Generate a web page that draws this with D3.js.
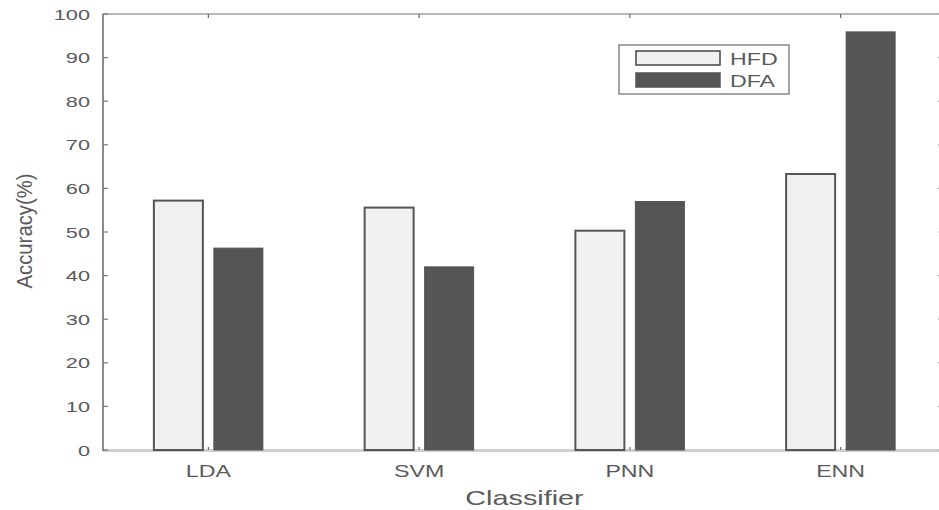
<!DOCTYPE html>
<html><head><meta charset="utf-8">
<script src="https://cdn.jsdelivr.net/npm/d3@7"></script>
<style>body{margin:0;background:#fff;}svg{display:block;font-family:Arial,"Liberation Sans",sans-serif;}</style>
</head><body><svg id="c" width="939" height="510"></svg>
<script>
const categories = ["LDA","SVM","PNN","ENN"];
const seriesNames = ["HFD","DFA"];
const hfd = [57.2, 55.6, 50.3, 63.3];
const dfa = [46.3, 42.0, 57.0, 95.9];
const yTicks = [0,10,20,30,40,50,60,70,80,90,100];
const xLabel = "Classifier";
const yLabel = "Accuracy(%)";

const W=939,H=510;
const m={left:103,right:946,top:14,bottom:450};
const SX=1.45;
const svg=d3.select("#c");
const x=d3.scaleBand().domain(categories).range([m.left,m.right]).padding(0);
const bw=x.bandwidth();
const x1=d3.scaleBand().domain(seriesNames).range([bw/2-54.5,bw/2+54.5]).paddingInner(0.1833).paddingOuter(0);
const y=d3.scaleLinear().domain([0,100]).range([m.bottom,m.top]);
const fills={HFD:"#f0f0f0",DFA:"#555555"};
const strokes={HFD:"#555555",DFA:"#555555"};
const textCol="#5a5a5a";

// axes lines
svg.append("line").attr("x1",m.left).attr("x2",W).attr("y1",m.top).attr("y2",m.top).attr("stroke","#b8b8b8").attr("stroke-width",2);
svg.append("line").attr("x1",m.left).attr("x2",W).attr("y1",m.bottom+0.5).attr("y2",m.bottom+0.5).attr("stroke","#cfcfcf").attr("stroke-width",3);
svg.append("line").attr("x1",m.left).attr("x2",m.left).attr("y1",m.top).attr("y2",m.bottom+1).attr("stroke","#666").attr("stroke-width",1.5);
svg.append("line").attr("x1",m.right).attr("x2",m.right).attr("y1",m.top).attr("y2",m.bottom).attr("stroke","#888").attr("stroke-width",1.5);

// y ticks (inside)
const yt=svg.append("g");
yTicks.forEach(t=>{
  yt.append("line").attr("x1",m.left).attr("x2",m.left+5).attr("y1",y(t)).attr("y2",y(t)).attr("stroke","#777").attr("stroke-width",1.2);
  yt.append("line").attr("x1",m.right-8).attr("x2",m.right).attr("y1",y(t)).attr("y2",y(t)).attr("stroke","#aaa").attr("stroke-width",1.2);
  yt.append("text").attr("transform",`translate(90,${y(t)+5.5}) scale(${SX},1)`)
    .attr("text-anchor","end").attr("font-size",15).attr("fill",textCol).text(t);
});
// x ticks
categories.forEach(c=>{
  const cx=x(c)+bw/2;
  svg.append("line").attr("x1",cx).attr("x2",cx).attr("y1",m.top).attr("y2",m.top+4).attr("stroke","#666").attr("stroke-width",1.2);
  svg.append("line").attr("x1",cx).attr("x2",cx).attr("y1",m.bottom).attr("y2",m.bottom-3).attr("stroke","#666").attr("stroke-width",1.2);
  svg.append("text").attr("transform",`translate(${cx},477) scale(${SX},1)`)
    .attr("text-anchor","middle").attr("font-size",16).attr("fill",textCol).text(c);
});

// bars
const data=categories.map((c,i)=>({c,vals:[{s:"HFD",v:hfd[i]},{s:"DFA",v:dfa[i]}]}));
const g=svg.append("g");
data.forEach(d=>{
  d.vals.forEach(o=>{
    g.append("rect").attr("x",x(d.c)+x1(o.s)).attr("width",x1.bandwidth())
      .attr("y",y(o.v)).attr("height",y(0)-y(o.v))
      .attr("fill",fills[o.s]).attr("stroke",strokes[o.s]).attr("stroke-width",o.s==="HFD"?2:1);
  });
});

// axis labels
svg.append("text").attr("transform",`translate(${(m.left+m.right)/2},505) scale(1.44,1)`)
  .attr("text-anchor","middle").attr("font-size",20).attr("fill",textCol).text(xLabel);
svg.append("text").attr("transform","translate(32,231) rotate(-90) scale(1,1.35)")
  .attr("text-anchor","middle").attr("font-size",16).attr("fill",textCol)
  .attr("textLength",115).attr("lengthAdjust","spacingAndGlyphs").text(yLabel);

// legend
const lg=svg.append("g");
lg.append("rect").attr("x",619).attr("y",45).attr("width",170).attr("height",49).attr("fill","#fff").attr("stroke","#888").attr("stroke-width",1.5);
seriesNames.forEach((s,i)=>{
  lg.append("rect").attr("x",636).attr("y",51+i*22).attr("width",84).attr("height",14)
    .attr("fill",fills[s]).attr("stroke",s==="HFD"?"#444":"#555").attr("stroke-width",1.5);
  lg.append("text").attr("transform",`translate(730,${65+i*22}) scale(${SX},1)`)
    .attr("font-size",16).attr("fill",textCol).text(s);
});
</script></body></html>
